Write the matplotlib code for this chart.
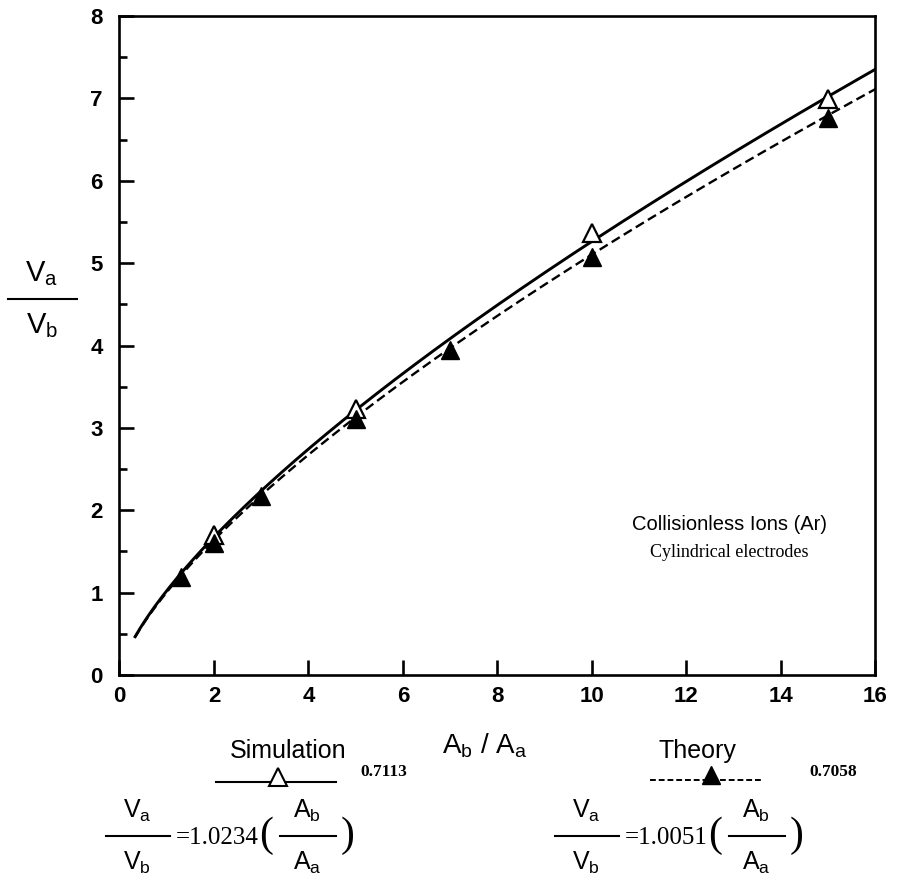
import numpy as np
import matplotlib.pyplot as plt
from matplotlib.lines import Line2D

plt.rcParams['mathtext.fontset'] = 'custom'
plt.rcParams['mathtext.rm'] = 'Liberation Sans'
plt.rcParams['mathtext.it'] = 'Liberation Sans'
plt.rcParams['mathtext.bf'] = 'Liberation Sans:bold'

# measured points
sim_x = [2, 5, 10, 15]
sim_y = [1.70, 3.23, 5.37, 6.99]
theo_x = [1.3, 2, 3, 5, 7, 10, 15]
theo_y = [1.19, 1.60, 2.17, 3.11, 3.94, 5.07, 6.76]

# power-law fits printed under the chart
sim_fit = (1.0234, 0.7113)
theo_fit = (1.0051, 0.7058)
fit_range = (0.33, 16)

xticks = [0, 2, 4, 6, 8, 10, 12, 14, 16]
yticks = [0, 1, 2, 3, 4, 5, 6, 7, 8]

W, H = 912, 889
fig = plt.figure(figsize=(W / 100, H / 100), dpi=100)


def px(x, y):
    # pixel position (from top-left) -> figure fraction
    return x / W, 1 - y / H


ax = fig.add_axes([119.5 / W, 214 / H, 756 / W, 659 / H])

xs = np.linspace(fit_range[0], fit_range[1], 300)
ax.plot(xs, sim_fit[0] * xs ** sim_fit[1], color='black', lw=2.1)
ax.plot(xs, theo_fit[0] * xs ** theo_fit[1], color='black', lw=1.7,
        ls=(0, (4, 2)))
ax.plot(sim_x, sim_y, ls='none', marker='^', ms=13, mfc='white',
        mec='black', mew=1.6)
ax.plot(theo_x, theo_y, ls='none', marker='^', ms=13, mfc='black',
        mec='black')

ax.set_xlim(0, 16)
ax.set_ylim(0, 8)
ax.set_xticks(xticks)
ax.set_yticks(yticks)
ax.set_yticks(np.arange(0.5, 8, 1.0), minor=True)
for s in ax.spines.values():
    s.set_linewidth(1.9)
ax.tick_params(which='both', direction='in', top=False, right=False,
               width=1.9)
ax.tick_params(which='major', length=11, labelsize=16)
ax.tick_params(which='minor', length=6)
ax.tick_params(axis='y', pad=12)
ax.tick_params(axis='x', pad=8)
for lab in ax.get_xticklabels() + ax.get_yticklabels():
    lab.set_fontweight('bold')
    lab.set_family('Liberation Sans')

ax.text(0.807, 0.229, 'Collisionless Ions (Ar)', transform=ax.transAxes,
        ha='center', va='center', fontsize=14.5, family='Liberation Sans')
ax.text(0.807, 0.186, 'Cylindrical electrodes', transform=ax.transAxes,
        ha='center', va='center', fontsize=13, family='Liberation Serif')

sans = 'Liberation Sans'
serif = 'Liberation Serif'


def frac(cx, cy, top, bot, x0, x1, size=18):
    fig.text(*px(cx, cy - 25), top, ha='center', va='center',
             fontsize=size, family=sans)
    fig.text(*px(cx, cy + 27), bot, ha='center', va='center',
             fontsize=size, family=sans)
    a, b = px(x0, cy)
    c, d = px(x1, cy)
    fig.add_artist(Line2D([a, c], [b, d], color='black', lw=1.5,
                          transform=fig.transFigure))


# y label
frac(42, 299, r'$\mathregular{V_a}$', r'$\mathregular{V_b}$', 8, 77, size=21)

# x label
fig.text(*px(485, 746), r'$\mathregular{A_b}$ / $\mathregular{A_a}$',
         ha='center', va='center', fontsize=20, family=sans)

# legend entries
fig.text(*px(288, 751), 'Simulation', ha='center', va='center',
         fontsize=18, family=sans)
a, b = px(216, 782)
c, d = px(336, 782)
fig.add_artist(Line2D([a, c], [b, d], color='black', lw=1.5,
                      transform=fig.transFigure))
fig.add_artist(Line2D([px(278, 0)[0]], [px(0, 777)[1]], ls='none',
                      marker='^', ms=13, mfc='white', mec='black', mew=1.5,
                      transform=fig.transFigure))

fig.text(*px(697, 751), 'Theory', ha='center', va='center',
         fontsize=18, family=sans)
a, b = px(650, 780)
c, d = px(762, 780)
fig.add_artist(Line2D([a, c], [b, d], color='black', lw=1.4,
                      ls=(0, (3, 1.5)), transform=fig.transFigure))
fig.add_artist(Line2D([px(711, 0)[0]], [px(0, 775)[1]], ls='none',
                      marker='^', ms=13, mfc='black', mec='black',
                      transform=fig.transFigure))

# fit equations
for (x0, coef, ex) in [(106, sim_fit[0], sim_fit[1]),
                       (555, theo_fit[0], theo_fit[1])]:
    frac(x0 + 31, 836, r'$\mathregular{V_a}$', r'$\mathregular{V_b}$',
         x0, x0 + 64)
    fig.text(*px(x0 + 70, 838), '=%.4f' % coef, ha='left', va='center',
             fontsize=18, family=serif)
    fig.text(*px(x0 + 160, 836), '(', ha='center', va='center',
             fontsize=30, family=serif)
    frac(x0 + 201, 836, r'$\mathregular{A_b}$', r'$\mathregular{A_a}$',
         x0 + 174, x0 + 230)
    fig.text(*px(x0 + 242, 836), ')', ha='center', va='center',
             fontsize=30, family=serif)
    fig.text(*px(x0 + 254, 772), '%.4f' % ex, ha='left', va='center',
             fontsize=12.5, family=serif, fontweight='bold')

fig.savefig('out.png', dpi=100)
